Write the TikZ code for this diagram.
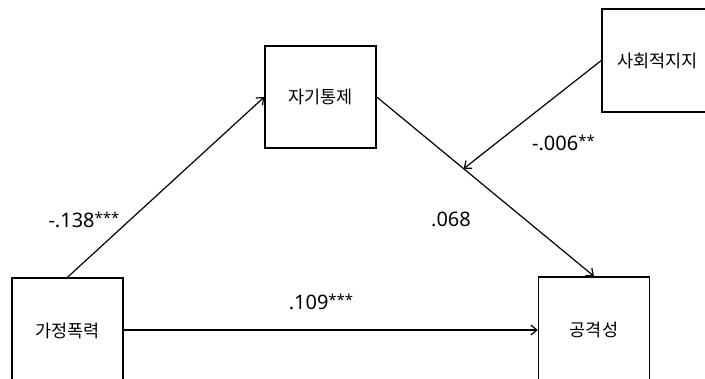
\documentclass[tikz,border=0pt]{standalone}
\usepackage{fontspec}
\setmainfont{Noto Sans}
\newfontfamily\kr{Noto Sans CJK KR}
\usetikzlibrary{arrows.meta,calc}
\newcommand{\stars}[1]{\raisebox{3.2pt}{\fontsize{15}{18}\selectfont #1}}
\newcommand{\krtext}[1]{\raisebox{-3pt}{#1}}
\begin{document}
\begin{tikzpicture}[x=1pt,y=-1pt,
  varbox/.style={draw,line width=1.5pt,minimum width=111pt,minimum height=102pt,inner sep=0pt,font=\kr\fontsize{17.5}{20}\selectfont},
  path/.style={line width=1.2pt,-{Straight Barb[length=6pt,width=10pt,line width=1.2pt]}},
  coef/.style={inner sep=0pt,font=\fontsize{20}{24}\selectfont}]
\useasboundingbox (0,0) rectangle (705,378);
\clip (0,0) rectangle (705,378);
\node[varbox] (sc) at (320.5,97) {\krtext{자기통제}};
\node[varbox,minimum height=103pt] (ss) at (657.5,60.5) {\krtext{사회적지지}};
\node[varbox,minimum height=106pt] (hv) at (67.5,331) {\krtext{가정폭력}};
\node[varbox,minimum height=106pt] (ag) at (594,330) {\krtext{공격성}};
\draw[path] (hv.north) -- (sc.west);
\draw[path] (sc.east) -- (ag.north);
\coordinate (mod) at ($(sc.east)!0.4!(ag.north)$);
\draw[path] (ss.west) -- (mod);
\draw[path] (hv.east |- ag.west) -- (ag.west);
\node[coef] (c1) at (84,220) {-.138\stars{***}};
\node[coef] (c2) at (451,219) {.068};
\node[coef] (c3) at (563.5,143) {-.006\stars{**}};
\node[coef] (c4) at (321,302) {.109\stars{***}};
\end{tikzpicture}
\end{document}
